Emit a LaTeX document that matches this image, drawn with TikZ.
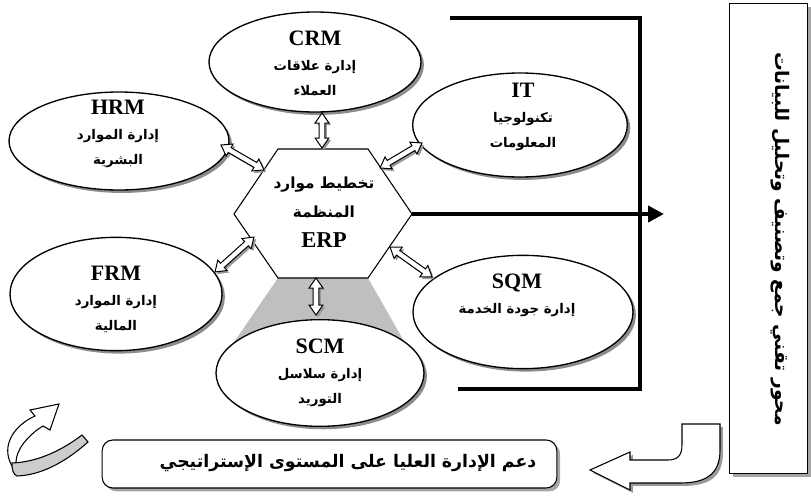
\documentclass[tikz,border=0pt]{standalone}
\usepackage{fontspec}
\setmainfont{Liberation Serif}
\newfontfamily\arabicfont[Script=Arabic]{DejaVu Sans}
\TeXXeTstate=1
\usetikzlibrary{shapes.geometric,arrows.meta,shadows,calc}

\newcommand{\ar}[1]{{\arabicfont\bfseries\beginR #1\endR}}
\newcommand{\abbr}[1]{{\bfseries\fontsize{16.5}{16.5}\selectfont #1}}
\newcommand{\twshape}[1]{\path[#1] (0pt,0pt) -- (7.5pt,5.2pt) -- (7.5pt,2.1pt) -- ({\twlen pt-7.5pt},2.1pt) -- ({\twlen pt-7.5pt},5.2pt) -- ({\twlen pt},0pt) -- ({\twlen pt-7.5pt},-5.2pt) -- ({\twlen pt-7.5pt},-2.1pt) -- (7.5pt,-2.1pt) -- (7.5pt,-5.2pt) -- cycle;}
\newcommand{\twoway}[2]{%
  \path let \p1=($(#2)-(#1)$) in \pgfextra{%
    \pgfmathsetmacro\twang{atan2(\y1,\x1)}\global\let\twang\twang
    \pgfmathsetmacro\twlen{veclen(\x1,\y1)}\global\let\twlen\twlen};
  \twshape{fill=black!40, shift={(#1)}, xshift=1.6pt, yshift=-1.6pt, rotate=\twang}
  \twshape{draw, fill=white, line width=0.75pt, shift={(#1)}, rotate=\twang}}

\begin{document}
\begin{tikzpicture}[x=0.75pt, y=-0.75pt,
    unit/.style={ellipse, draw, line width=1pt, fill=white, inner sep=0pt,
      drop shadow={shadow xshift=2.2pt, shadow yshift=-2.2pt, fill=black!45, opacity=1}},
    panel/.style={draw, line width=0.8pt, fill=white, inner sep=0pt,
      drop shadow={shadow xshift=2.5pt, shadow yshift=-2.5pt, fill=black!35, opacity=1}},
    txt/.style={align=center, inner sep=0pt, font=\fontsize{10}{18.75}\selectfont},
    shade/.style={fill=black!40, draw=none},
    ribbon/.style={draw, line width=0.8pt, fill=white}]

    \useasboundingbox (0,0) rectangle (811,496);

    \fill[black!25] (278,278) -- (368,278) -- (405,343) -- (320,365) -- (232,345) -- cycle;

    \node[unit, minimum width=159pt, minimum height=75pt] (crm) at (315,62) {};
    \node[unit, minimum width=161pt, minimum height=78pt] (it) at (520,125) {};
    \node[unit, minimum width=165pt, minimum height=73.5pt] (hrm) at (119,141) {};
    \node[unit, minimum width=159pt, minimum height=85pt] (frm) at (116,294) {};
    \node[unit, minimum width=165pt, minimum height=85pt] (sqm) at (523,312) {};
    \node[unit, minimum width=156pt, minimum height=80pt] (scm) at (320,373) {};

    \node[txt] (crmtxt) at (315,63) {\abbr{CRM}\\ \ar{إدارة علاقات}\\ \ar{العملاء}};
    \node[txt] (ittxt) at (523,117) {\abbr{IT}\\ \ar{تكنولوجيا}\\ \ar{المعلومات}};
    \node[txt] (hrmtxt) at (118,134) {\abbr{HRM}\\ \ar{إدارة الموارد}\\ \ar{البشرية}};
    \node[txt] (frmtxt) at (116,299) {\abbr{FRM}\\ \ar{إدارة الموارد}\\ \ar{المالية}};
    \node[txt] (sqmtxt) at (517,295) {\abbr{SQM}\\ \ar{إدارة جودة الخدمة}};
    \node[txt] (scmtxt) at (320,373) {\abbr{SCM}\\ \ar{إدارة سلاسل}\\ \ar{التوريد}};

    \coordinate (hexE) at (412,214);
    \draw[line width=0.8pt, fill=white] (234,214) -- (278,149) -- (368,149) -- (hexE) -- (368,278) -- (278,278) -- cycle;
    \node[txt, font=\fontsize{11.5}{22}\selectfont] (erp) at (324,212) {\ar{تخطيط موارد}\\ \ar{المنظمة}\\ {\bfseries\fontsize{17}{17}\selectfont ERP}};

    \coordinate (brA) at (450,18);
    \coordinate (brB) at (458,389);
    \coordinate (out) at (664,214);
    \draw[line width=3pt] (brA) -- (640,18) -- (640,389) -- (brB);
    \draw[line width=3pt, -{Triangle[length=12pt, width=12pt]}] (hexE) -- (out);

    \coordinate (crmE) at (322,113);  \coordinate (crmH) at (322,148);
    \coordinate (hrmE) at (221,145);  \coordinate (hrmH) at (264,170);
    \coordinate (itE) at (422,143);   \coordinate (itH) at (380,168);
    \coordinate (frmE) at (215,272);  \coordinate (frmH) at (254,237);
    \coordinate (sqmE) at (432,277);  \coordinate (sqmH) at (390,247);
    \coordinate (scmE) at (316,315);  \coordinate (scmH) at (316,278);
    \twoway{crmE}{crmH}
    \twoway{hrmE}{hrmH}
    \twoway{itE}{itH}
    \twoway{frmE}{frmH}
    \twoway{sqmE}{sqmH}
    \twoway{scmE}{scmH}

    \node[panel, minimum width=59pt, minimum height=353pt] (axis) at (768.5,238.5) {};
    \node[rotate=-90, inner sep=0pt, font=\fontsize{14}{14}\selectfont] (axistxt) at (780,239) {\ar{محور تقني جمع وتصنيف وتحليل للبيانات}};

    \node[panel, rounded corners=8pt, minimum width=341pt, minimum height=36pt] (support) at (329.5,464) {};
    \node[txt, font=\fontsize{13}{13}\selectfont] (supporttxt) at (348,463) {\ar{دعم الإدارة العليا على المستوى الإستراتيجي}};

    \foreach \s/\d in {shade/2.2pt, ribbon/0pt}
      \path[\s, xshift=\d, yshift=-\d] (682,424) -- (720,424) -- (720,450) .. controls (720,475) and (705,483) .. (680,483) -- (630,483) -- (630,490) -- (590,470) -- (630,452) -- (630,460) -- (668,460) .. controls (678,460) and (682,455) .. (682,445) -- cycle;

    \path[ribbon] (12,466) .. controls (0,445) and (15,425) .. (35,416) -- (30,410) -- (59,404) -- (50,430) -- (43,426) .. controls (28,435) and (16,450) .. (16,462) -- cycle;
    \path[ribbon, fill=black!20] (12,463) .. controls (40,462) and (65,448) .. (82,435) -- (88,442) .. controls (70,458) and (45,475) .. (17,476) .. controls (13,474) and (12,470) .. (12,463) -- cycle;

\end{tikzpicture}
\end{document}
